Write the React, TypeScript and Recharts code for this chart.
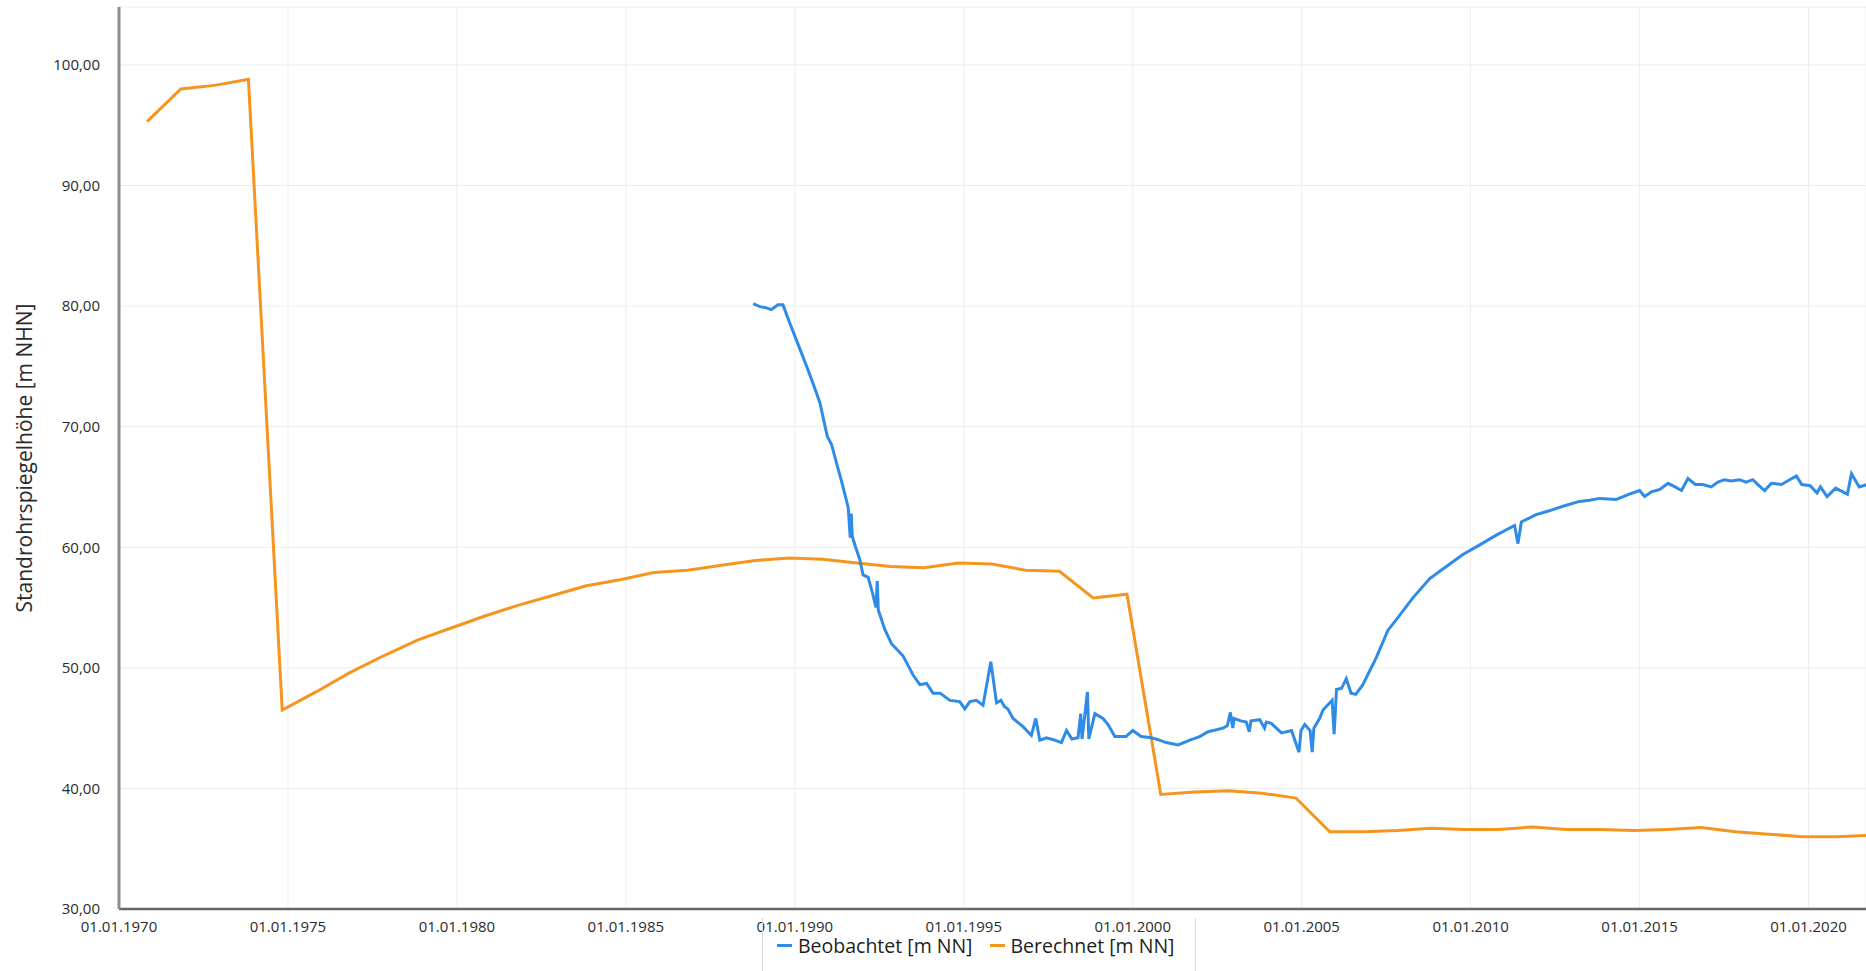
import { CartesianGrid, Line, LineChart, XAxis, YAxis } from 'recharts'

// Zeitpunkte als Dezimaljahr, Werte in m NN
const BEOBACHTET: [number, number][] = [
  [1988.77, 80.2], [1988.96, 79.95], [1989.16, 79.85], [1989.3, 79.7], [1989.4, 79.9],
  [1989.5, 80.1], [1989.65, 80.1], [1989.85, 78.6], [1990.1, 76.8], [1990.35, 75.0],
  [1990.55, 73.5], [1990.74, 72.0], [1990.96, 69.2], [1991.09, 68.5], [1991.25, 66.8],
  [1991.38, 65.5], [1991.58, 63.3], [1991.64, 60.8], [1991.67, 62.8], [1991.7, 60.9],
  [1991.8, 60.0], [1991.92, 59.0], [1992.02, 57.7], [1992.17, 57.5], [1992.3, 56.2],
  [1992.4, 55.0], [1992.44, 57.2], [1992.47, 54.8], [1992.66, 53.2], [1992.86, 52.0],
  [1993.03, 51.5], [1993.2, 51.0], [1993.35, 50.2], [1993.5, 49.4], [1993.7, 48.6],
  [1993.9, 48.7], [1994.09, 47.9], [1994.3, 47.9], [1994.59, 47.3], [1994.88, 47.2],
  [1995.03, 46.6], [1995.18, 47.2], [1995.37, 47.3], [1995.57, 46.9], [1995.8, 50.5],
  [1995.97, 47.1], [1996.1, 47.3], [1996.2, 46.8], [1996.3, 46.6], [1996.46, 45.8],
  [1996.76, 45.1], [1997.0, 44.4], [1997.13, 45.8], [1997.25, 44.0], [1997.45, 44.2],
  [1997.69, 44.0], [1997.89, 43.8], [1998.04, 44.8], [1998.2, 44.1], [1998.38, 44.2],
  [1998.46, 46.2], [1998.5, 44.1], [1998.66, 48.0], [1998.7, 44.1], [1998.88, 46.2],
  [1999.12, 45.8], [1999.27, 45.3], [1999.47, 44.3], [1999.8, 44.3], [2000.0, 44.8],
  [2000.25, 44.3], [2000.55, 44.2], [2000.79, 44.0], [2000.99, 43.8], [2001.34, 43.6],
  [2001.69, 44.0], [2001.98, 44.3], [2002.23, 44.7], [2002.67, 45.0], [2002.8, 45.2],
  [2002.89, 46.3], [2002.96, 45.0], [2003.0, 45.8], [2003.2, 45.6], [2003.36, 45.5],
  [2003.45, 44.7], [2003.5, 45.6], [2003.76, 45.7], [2003.9, 45.0], [2003.95, 45.5],
  [2004.1, 45.4], [2004.4, 44.6], [2004.7, 44.8], [2004.92, 43.0], [2004.98, 44.8],
  [2005.09, 45.3], [2005.25, 44.8], [2005.31, 43.0], [2005.36, 45.0], [2005.53, 45.8],
  [2005.63, 46.5], [2005.9, 47.3], [2005.96, 44.5], [2006.03, 48.2], [2006.18, 48.3],
  [2006.32, 49.1], [2006.46, 47.9], [2006.6, 47.8], [2006.81, 48.6], [2007.2, 50.8],
  [2007.55, 53.1], [2007.8, 54.0], [2008.29, 55.8], [2008.79, 57.4], [2009.28, 58.4],
  [2009.77, 59.4], [2010.27, 60.2], [2010.76, 61.0], [2011.3, 61.8], [2011.4, 60.3],
  [2011.5, 62.1], [2011.94, 62.7], [2012.3, 63.0], [2012.73, 63.4], [2013.22, 63.8],
  [2013.52, 63.9], [2013.82, 64.05], [2014.31, 63.96], [2014.7, 64.4], [2015.0, 64.7],
  [2015.15, 64.2], [2015.35, 64.6], [2015.6, 64.8], [2015.84, 65.3], [2016.05, 65.0],
  [2016.24, 64.7], [2016.43, 65.7], [2016.65, 65.2], [2016.87, 65.2], [2017.12, 65.0],
  [2017.32, 65.4], [2017.51, 65.6], [2017.7, 65.5], [2017.96, 65.6], [2018.15, 65.4],
  [2018.35, 65.6], [2018.5, 65.2], [2018.7, 64.7], [2018.9, 65.3], [2019.2, 65.2],
  [2019.44, 65.6], [2019.64, 65.9], [2019.8, 65.2], [2020.05, 65.1], [2020.25, 64.5],
  [2020.35, 65.0], [2020.55, 64.2], [2020.8, 64.9], [2021.15, 64.4], [2021.27, 66.1],
  [2021.5, 65.0], [2021.73, 65.2],
]

const BERECHNET: [number, number][] = [
  [1970.83, 95.3], [1971.83, 98.0], [1972.83, 98.3], [1973.83, 98.8], [1974.83, 46.5],
  [1975.83, 48.0], [1976.83, 49.6], [1977.83, 51.0], [1978.83, 52.3], [1979.83, 53.3],
  [1980.83, 54.3], [1981.83, 55.2], [1982.83, 56.0], [1983.83, 56.8], [1984.83, 57.3],
  [1985.83, 57.9], [1986.83, 58.1], [1987.83, 58.5], [1988.83, 58.9], [1989.83, 59.1],
  [1990.83, 59.0], [1991.83, 58.7], [1992.83, 58.4], [1993.83, 58.3], [1994.83, 58.7],
  [1995.83, 58.6], [1996.83, 58.1], [1997.83, 58.0], [1998.83, 55.8], [1999.83, 56.1],
  [2000.83, 39.5], [2001.83, 39.7], [2002.83, 39.8], [2003.83, 39.6], [2004.83, 39.2],
  [2005.83, 36.4], [2006.83, 36.4], [2007.83, 36.5], [2008.83, 36.7], [2009.83, 36.6],
  [2010.83, 36.6], [2011.83, 36.8], [2012.83, 36.6], [2013.83, 36.6], [2014.83, 36.5],
  [2015.83, 36.6], [2016.83, 36.75], [2017.83, 36.4], [2018.83, 36.2], [2019.83, 36.0],
  [2020.83, 36.0], [2021.83, 36.1],
]

const X_TICKS = [1970, 1975, 1980, 1985, 1990, 1995, 2000, 2005, 2010, 2015, 2020]
const Y_TICKS = [30, 40, 50, 60, 70, 80, 90, 100]

const BLUE = '#2e8be6'
const ORANGE = '#f5951f'
const FONT = '"Open Sans", sans-serif'

const toRows = (pts: [number, number][]) => pts.map(([t, v]) => ({ t, v }))

export default function App() {
  return (
    <div style={{ position: 'absolute', left: 0, top: 0, width: 1866, height: 971, background: '#fff', fontFamily: FONT }}>
      <LineChart width={1866} height={971} margin={{ top: 7, right: 0, bottom: 0, left: 0 }}>
        <CartesianGrid stroke="#ededed" strokeWidth={1} />
        <XAxis
          type="number"
          dataKey="t"
          domain={[1970, 2021.7]}
          allowDataOverflow
          ticks={X_TICKS}
          interval={0}
          tickFormatter={(y: number) => `01.01.${y}`}
          tickSize={0}
          tickMargin={12}
          height={62}
          stroke="#666"
          strokeWidth={2.5}
          tick={{ fill: '#2b2b2b', fontSize: 15, fontFamily: FONT }}
        />
        <YAxis
          type="number"
          domain={[30, 104.8]}
          allowDataOverflow
          ticks={Y_TICKS}
          interval={0}
          tickFormatter={(v: number) => v.toFixed(2).replace('.', ',')}
          tickSize={0}
          tickMargin={19}
          width={119}
          stroke="#8e8e8e"
          strokeWidth={3}
          tick={{ fill: '#2b2b2b', fontSize: 15, fontFamily: FONT }}
          label={{
            value: 'Standrohrspiegelhöhe [m NHN]',
            angle: -90,
            position: 'insideLeft',
            offset: 25,
            style: { textAnchor: 'middle', fill: '#2b2b2b', fontSize: 21, fontFamily: FONT },
          }}
        />
        <Line
          data={toRows(BERECHNET)}
          dataKey="v"
          name="Berechnet [m NN]"
          type="linear"
          stroke={ORANGE}
          strokeWidth={3}
          dot={false}
          isAnimationActive={false}
        />
        <Line
          data={toRows(BEOBACHTET)}
          dataKey="v"
          name="Beobachtet [m NN]"
          type="linear"
          stroke={BLUE}
          strokeWidth={3}
          dot={false}
          isAnimationActive={false}
        />
      </LineChart>
      <div
        style={{
          position: 'absolute',
          left: 762,
          top: 918,
          width: 434,
          height: 60,
          borderLeft: '1px solid #d9d9d9',
          borderRight: '1px solid #d9d9d9',
          boxSizing: 'border-box',
        }}
      >
        <div
          style={{
            position: 'absolute',
            left: 14,
            top: 14,
            display: 'flex',
            alignItems: 'center',
            fontSize: 19.5,
            color: '#1e1e1e',
            whiteSpace: 'nowrap',
          }}
        >
          <span style={{ width: 15, height: 3, background: BLUE, marginRight: 6 }} />
          <span>Beobachtet [m NN]</span>
          <span style={{ width: 15, height: 3, background: ORANGE, marginLeft: 17, marginRight: 6 }} />
          <span>Berechnet [m NN]</span>
        </div>
      </div>
    </div>
  )
}
